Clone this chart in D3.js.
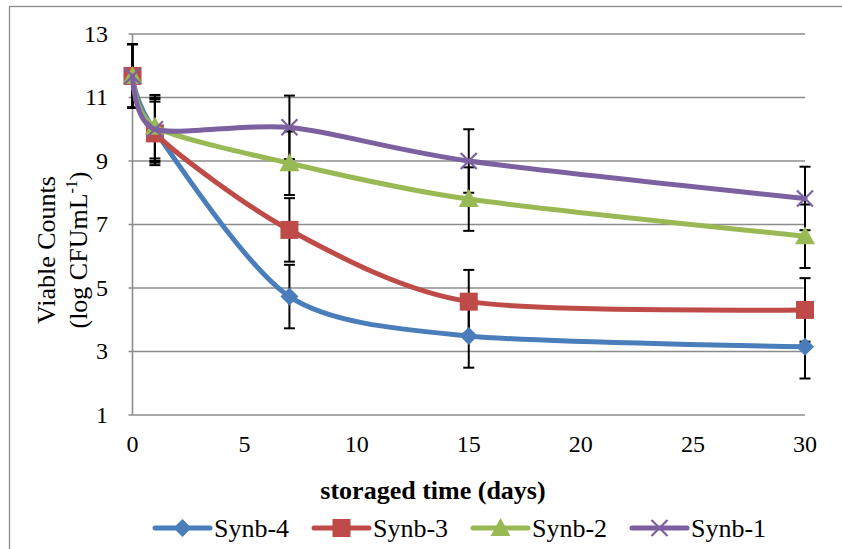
<!DOCTYPE html>
<html>
<head>
<meta charset="utf-8">
<script src="https://cdn.jsdelivr.net/npm/d3@7"></script>
<style>
  body { margin: 0; background: #fff; }
  text { font-family: "Liberation Serif", "Times New Roman", serif; fill: #000; }
</style>
</head>
<body>
<svg id="grafico"></svg>
<script>
// dados
const dias = [0, 1, 7, 15, 30];
const synb4 = [11.68, 9.95, 4.73, 3.49, 3.15];
const synb3 = [11.68, 9.87, 6.83, 4.57, 4.31];
const synb2 = [11.68, 10.08, 8.93, 7.80, 6.63];
const synb1 = [11.68, 10.00, 10.06, 9.00, 7.82];
const erros = [1.0, 1.0, 1.0, 1.0, 1.0];
const nomes = ['Synb-4', 'Synb-3', 'Synb-2', 'Synb-1'];
const ticksX = [0, 5, 10, 15, 20, 25, 30];
const ticksY = [1, 3, 5, 7, 9, 11, 13];

const largura = 842, altura = 549;
const cores = ['#4a7ebb', '#be4b48', '#98b954', '#7d60a0'];
const marcadores = ['diamante', 'quadrado', 'triangulo', 'xis'];

let svg = d3.select('#grafico')
    .attr('width', largura)
    .attr('height', altura);

// borda externa (lados direito e inferior ficam fora da imagem)
svg.append('rect')
    .attr('x', 9.5).attr('y', 6.5)
    .attr('width', 900).attr('height', 600)
    .attr('fill', 'none').attr('stroke', '#8c8c8c').attr('stroke-width', 1.3);

let fnX = d3.scaleLinear().domain([0, 30]).range([132.5, 805]);
let fnY = d3.scaleLinear().domain([1, 13]).range([415, 34]);

// grade horizontal
svg.append('g').selectAll('line').data(ticksY).enter().append('line')
    .attr('x1', fnX(0) - 4).attr('x2', fnX(30))
    .attr('y1', d => fnY(d)).attr('y2', d => fnY(d))
    .attr('stroke', '#8c8c8c').attr('stroke-width', 1.6);

// eixo vertical
svg.append('line')
    .attr('x1', fnX(0)).attr('x2', fnX(0))
    .attr('y1', fnY(13)).attr('y2', fnY(1))
    .attr('stroke', '#8c8c8c').attr('stroke-width', 1.6);

// rotulos dos eixos
svg.append('g').selectAll('text').data(ticksY).enter().append('text')
    .attr('x', 108).attr('y', d => fnY(d))
    .attr('dy', '0.33em')
    .style('text-anchor', 'end').style('font-size', '24px')
    .text(d => d);

svg.append('g').selectAll('text').data(ticksX).enter().append('text')
    .attr('x', d => fnX(d)).attr('y', 452)
    .style('text-anchor', 'middle').style('font-size', '24px')
    .text(d => d);

svg.append('text')
    .attr('x', 433).attr('y', 499)
    .style('text-anchor', 'middle').style('font-size', '26px').style('font-weight', 'bold')
    .text('storaged time (days)');

let tituloY = svg.append('text')
    .attr('transform', 'translate(46, 250) rotate(-90)')
    .style('text-anchor', 'middle').style('font-size', '26px');
tituloY.append('tspan').attr('x', 0).attr('dy', '0.33em').text('Viable Counts');
let linha2 = svg.append('text')
    .attr('transform', 'translate(78, 250) rotate(-90)')
    .style('text-anchor', 'middle').style('font-size', '26px')
    .attr('dy', '0.33em');
linha2.append('tspan').text('(log CFUmL');
linha2.append('tspan').attr('dy', -10).style('font-size', '16px').text('-1');
linha2.append('tspan').attr('dy', 10).text(')');

function desenheMarcador(g, tipo, cor) {
    if (tipo === 'diamante') {
        g.append('path').attr('d', 'M0,-9L9,0L0,9L-9,0Z').attr('fill', cor);
    } else if (tipo === 'quadrado') {
        g.append('rect').attr('x', -9).attr('y', -9).attr('width', 18).attr('height', 18).attr('fill', cor);
    } else if (tipo === 'triangulo') {
        g.append('path').attr('d', 'M0,-10L10,8L-10,8Z').attr('fill', cor);
    } else {
        g.append('path').attr('d', 'M-8,-8L8,8M-8,8L8,-8')
            .attr('stroke', cor).attr('stroke-width', 2.2).attr('fill', 'none');
    }
}

let series = [synb4, synb3, synb2, synb1].map((valores, i) => ({
    nome: nomes[i],
    cor: cores[i],
    marcador: marcadores[i],
    pontos: dias.map((d, j) => ({ dia: d, valor: valores[j], erro: erros[j] }))
}));

// barras de erro
let gErros = svg.append('g');
series.forEach(s => {
    s.pontos.forEach(p => {
        let x = fnX(p.dia), y1 = fnY(p.valor + p.erro), y2 = fnY(p.valor - p.erro);
        gErros.append('line').attr('x1', x).attr('x2', x).attr('y1', y1).attr('y2', y2);
        gErros.append('line').attr('x1', x - 5.5).attr('x2', x + 5.5).attr('y1', y1).attr('y2', y1);
        gErros.append('line').attr('x1', x - 5.5).attr('x2', x + 5.5).attr('y1', y2).attr('y2', y2);
    });
});
gErros.selectAll('line').attr('stroke', '#000').attr('stroke-width', 2);

let linha = d3.line()
    .x(d => fnX(d.dia))
    .y(d => fnY(d.valor))
    .curve(d3.curveCardinal.tension(0.2));

series.forEach(s => {
    svg.append('path').datum(s.pontos)
        .attr('d', linha)
        .attr('fill', 'none')
        .attr('stroke', s.cor)
        .attr('stroke-width', 5)
        .attr('stroke-linecap', 'round');
    s.pontos.forEach(p => {
        let g = svg.append('g').attr('transform', 'translate(' + fnX(p.dia) + ',' + fnY(p.valor) + ')');
        desenheMarcador(g, s.marcador, s.cor);
    });
});

// legenda
let legenda = svg.append('g').attr('transform', 'translate(155, 528)');
series.forEach((s, i) => {
    let item = legenda.append('g').attr('transform', 'translate(' + (i * 159) + ', 0)');
    item.append('line').attr('x1', 0).attr('x2', 55).attr('y1', 0).attr('y2', 0)
        .attr('stroke', s.cor).attr('stroke-width', 5).attr('stroke-linecap', 'round');
    let m = item.append('g').attr('transform', 'translate(27.5, 0)');
    desenheMarcador(m, s.marcador, s.cor);
    item.append('text').attr('x', 59).attr('y', 9)
        .style('font-size', '26px')
        .text(s.nome);
});
</script>
</body>
</html>
